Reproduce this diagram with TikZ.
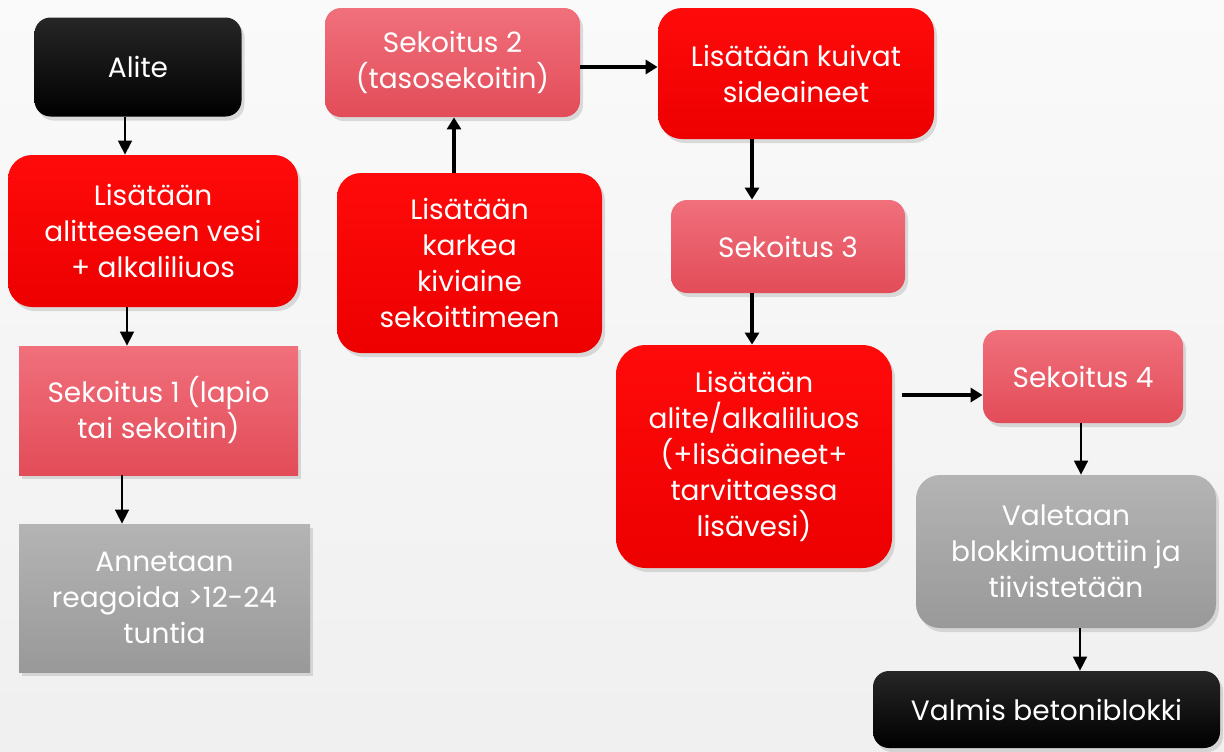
\documentclass[tikz,border=0pt]{standalone}
\usepackage{fontspec}
\setmainfont{Poppins}
\usepackage{tikz}
\usetikzlibrary{positioning, arrows.meta, shadows}

\tikzset{
  box/.style={align=center, text=white, inner sep=2pt,
    font=\fontsize{14}{18}\selectfont,
    drop shadow={shadow xshift=1.5pt, shadow yshift=-2pt, opacity=.25}},
  redbox/.style={box, rounded corners=12pt, top color=red!96!white, bottom color=red!93!black},
  pinkbox/.style={box, rounded corners=8pt, top color=pinktop, bottom color=pinkbot},
  pinkbevel/.style={box, top color=pinktop, bottom color=pinkbot},
  greybox/.style={box, rounded corners=12pt, top color=greytop, bottom color=greybot},
  greybevel/.style={box, top color=greytop, bottom color=greybot},
  blackbox/.style={box, rounded corners=8pt, top color=black!85, bottom color=black},
  thinarrow/.style={-{Triangle[width=7pt,length=7pt]}, line width=.8pt},
  thickarrow/.style={-{Triangle[width=7pt,length=6pt]}, line width=1.6pt}
}
\definecolor{pinktop}{HTML}{F0707C}
\definecolor{pinkbot}{HTML}{E24C58}
\definecolor{greytop}{HTML}{B4B4B4}
\definecolor{greybot}{HTML}{999999}

\begin{document}
\begin{tikzpicture}[x=0.5pt, y=-0.5pt]
  \shade[top color=gray!4, bottom color=gray!12] (0,0) rectangle (1224,751);
  \useasboundingbox (0,0) rectangle (1224,751);

  % left column
  \node[blackbox, minimum width=103.5pt, minimum height=49.5pt] (alite) at (138,67) {Alite};
  \node[redbox, minimum width=145pt, minimum height=76pt] (lisvesi) at (153,231)
    {Lisätään\\alitteeseen vesi\\+ alkaliliuos};
  \node[pinkbevel, minimum width=139.5pt, minimum height=64.5pt] (sek1) at (158.5,410.5)
    {Sekoitus 1 (lapio\\tai sekoitin)};
  \node[greybevel, minimum width=145.5pt, minimum height=74pt] (anne) at (164.5,598)
    {Annetaan\\reagoida >12-24\\tuntia};

  % middle
  \node[pinkbox, minimum width=127.5pt, minimum height=54.5pt] (sek2) at (452.5,62.5)
    {Sekoitus 2\\(tasosekoitin)};
  \node[redbox, minimum width=132.5pt, minimum height=90pt] (karkea) at (469.5,263)
    {Lisätään\\karkea\\kiviaine\\sekoittimeen};
  \node[redbox, minimum width=138pt, minimum height=65.5pt] (kuivat) at (796,73.5)
    {Lisätään kuivat\\sideaineet};
  \node[pinkbox, minimum width=117pt, minimum height=46.5pt] (sek3) at (788,246.5) {Sekoitus 3};
  \node[redbox, rounded corners=15pt, minimum width=138pt, minimum height=111.5pt] (alkali) at (754,456.5)
    {Lisätään\\alite/alkaliliuos\\(+lisäaineet+\\tarvittaessa\\lisävesi)};

  % right
  \node[pinkbox, minimum width=100pt, minimum height=46.5pt] (sek4) at (1083,376.5) {Sekoitus 4};
  \node[greybox, minimum width=150pt, minimum height=76.5pt] (valetaan) at (1066,551.5)
    {Valetaan\\blokkimuottiin ja\\tiivistetään};
  \node[blackbox, minimum width=173.5pt, minimum height=38.5pt] (valmis) at (1046.5,709.5)
    {Valmis betoniblokki};

  \draw[thinarrow] (alite.south -| 125,0) -- (lisvesi.north -| 125,0);
  \draw[thinarrow] (lisvesi.south -| 127,0) -- (sek1.north -| 127,0);
  \draw[thinarrow] (sek1.south -| 122,0) -- (anne.north -| 122,0);
  \draw[thickarrow] (karkea.north -| 454,0) -- (sek2.south -| 454,0);
  \draw[thickarrow] (sek2.east |- 0,67) -- (kuivat.west |- 0,67);
  \draw[thickarrow] (kuivat.south -| 752,0) -- (sek3.north -| 752,0);
  \draw[thickarrow] (sek3.south -| 752,0) -- (alkali.north -| 752,0);
  \draw[thickarrow, shorten <=5pt] (alkali.east |- 0,395) -- (sek4.west |- 0,395);
  \draw[thinarrow] (sek4.south -| 1081,0) -- (valetaan.north -| 1081,0);
  \draw[thinarrow] (valetaan.south -| 1080,0) -- (valmis.north -| 1080,0);
\end{tikzpicture}
\end{document}
